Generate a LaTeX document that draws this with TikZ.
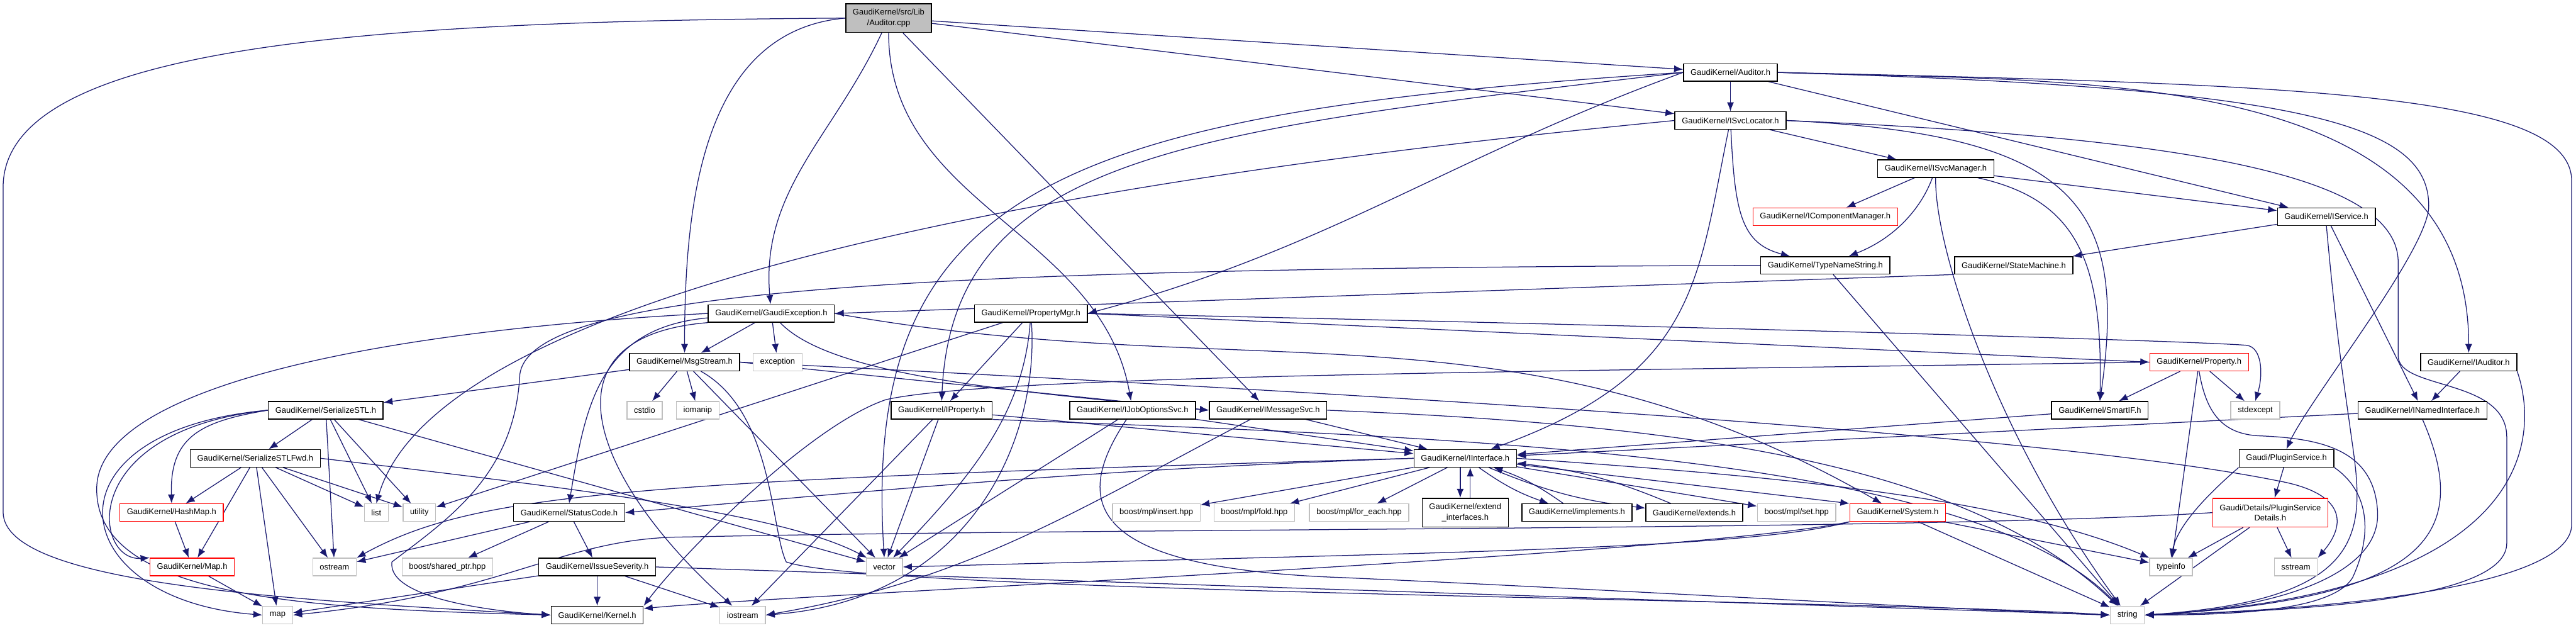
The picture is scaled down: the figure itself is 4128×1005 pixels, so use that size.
\documentclass[tikz,border=0pt]{standalone}
\usepackage{fontspec}
\setmainfont{Liberation Sans}
\usetikzlibrary{arrows.meta}
\definecolor{edgeblue}{HTML}{191970}
\definecolor{sysgrey}{HTML}{BFBFBF}
\definecolor{truncred}{HTML}{FF0000}
\pgfdeclarelayer{edges}
\pgfsetlayers{edges,main}

\begin{document}
\begin{tikzpicture}[
  x=0.025cm, y=-0.025cm,
  hdr/.style={draw=black,fill=white,line width=1pt,inner xsep=8pt,inner ysep=0pt,minimum height=7mm,align=center,font=\fontsize{9.3}{11.8}\selectfont},
  sys/.style={hdr,draw=sysgrey},
  trunc/.style={hdr,draw=truncred},
  srcfile/.style={hdr,fill=sysgrey},
  tall/.style={minimum height=11.5mm},
  dep/.style={-{Latex[length=3.6mm,width=2.8mm]},draw=edgeblue,line width=0.9pt}
]
\useasboundingbox (0,0) rectangle (4128,1005);

\node[srcfile,tall] (cpp) at (1424,29) {GaudiKernel/src/Lib\\/Auditor.cpp};
\node[hdr] (auditor) at (2773,116) {GaudiKernel/Auditor.h};
\node[hdr] (svclocator) at (2773,193) {GaudiKernel/ISvcLocator.h};
\node[hdr] (svcmanager) at (3102,270) {GaudiKernel/ISvcManager.h};
\node[hdr] (service) at (3728,347) {GaudiKernel/IService.h};
\node[trunc] (compmgr) at (2925,347) {GaudiKernel/IComponentManager.h};
\node[hdr] (typename) at (2925,425) {GaudiKernel/TypeNameString.h};
\node[hdr] (statemachine) at (3227,425) {GaudiKernel/StateMachine.h};
\node[hdr] (gaudiexc) at (1236,502) {GaudiKernel/GaudiException.h};
\node[hdr] (propmgr) at (1652,502) {GaudiKernel/PropertyMgr.h};
\node[hdr] (msgstream) at (1097,580) {GaudiKernel/MsgStream.h};
\node[sys] (exception) at (1246,580) {exception};
\node[trunc] (property) at (3524,580) {GaudiKernel/Property.h};
\node[hdr] (iauditor) at (3956,580) {GaudiKernel/IAuditor.h};
\node[hdr] (serialize) at (522,657) {GaudiKernel/SerializeSTL.h};
\node[sys] (cstdio) at (1033,657) {cstdio};
\node[sys] (iomanip) at (1118,657) {iomanip};
\node[hdr] (iproperty) at (1509,657) {GaudiKernel/IProperty.h};
\node[hdr] (joboptions) at (1815,657) {GaudiKernel/IJobOptionsSvc.h};
\node[hdr] (messagesvc) at (2032,657) {GaudiKernel/IMessageSvc.h};
\node[hdr] (smartif) at (3365,657) {GaudiKernel/SmartIF.h};
\node[sys] (stdexcept) at (3614,657) {stdexcept};
\node[hdr] (named) at (3882,657) {GaudiKernel/INamedInterface.h};
\node[hdr] (serializefwd) at (409,734) {GaudiKernel/SerializeSTLFwd.h};
\node[hdr] (iinterface) at (2348,734) {GaudiKernel/IInterface.h};
\node[hdr] (plugin) at (3664,734) {Gaudi/PluginService.h};
\node[trunc] (hashmap) at (275,821) {GaudiKernel/HashMap.h};
\node[sys] (list) at (603,821) {list};
\node[sys] (utility) at (672,821) {utility};
\node[hdr] (statuscode) at (912,821) {GaudiKernel/StatusCode.h};
\node[sys] (mplinsert) at (1853,821) {boost/mpl/insert.hpp};
\node[sys] (mplfold) at (2010,821) {boost/mpl/fold.hpp};
\node[sys] (mplforeach) at (2178,821) {boost/mpl/for\_each.hpp};
\node[hdr,tall] (extendif) at (2348,821) {GaudiKernel/extend\\\_interfaces.h};
\node[hdr] (implements) at (2527,821) {GaudiKernel/implements.h};
\node[hdr] (extends) at (2715,821) {GaudiKernel/extends.h};
\node[sys] (mplset) at (2879,821) {boost/mpl/set.hpp};
\node[trunc] (system) at (3041,821) {GaudiKernel/System.h};
\node[trunc,tall] (plugindetails) at (3638,821) {Gaudi/Details/PluginService\\Details.h};
\node[trunc] (maph) at (308,908) {GaudiKernel/Map.h};
\node[sys] (ostream) at (536,908) {ostream};
\node[sys] (sharedptr) at (717,908) {boost/shared\_ptr.hpp};
\node[hdr] (severity) at (957,908) {GaudiKernel/IssueSeverity.h};
\node[sys] (vector) at (1417,908) {vector};
\node[sys] (typeinfo) at (3479,908) {typeinfo};
\node[sys] (sstream) at (3679,908) {sstream};
\node[sys] (map) at (445,985) {map};
\node[hdr] (kernel) at (957,985) {GaudiKernel/Kernel.h};
\node[sys] (iostream) at (1190,985) {iostream};
\node[sys] (string) at (3409,985) {string};

\begin{pgfonlayer}{edges}
\fill[white] (0,0) rectangle (4128,1005);
\draw[dep] (cpp.west) .. controls (600,34) and (5,70) .. (5,300) -- (5,820) .. controls (5,935) and (450,960) .. (kernel.west);
\draw[dep] (cpp.west) to[out=185,in=90] (msgstream.north);
\draw[dep] (cpp) to[out=-115,in=95] (gaudiexc);
\draw[dep] (cpp) to[out=-90,in=100] (joboptions);
\draw[dep] (cpp) -- (messagesvc);
\draw[dep] (cpp) -- (auditor);
\draw[dep] (cpp) -- (svclocator);
\draw[dep] (auditor) -- (svclocator);
\draw[dep] (auditor.west) .. controls (1900,210) and (1526,250) .. (iproperty.north);
\draw[dep] (auditor.west) .. controls (1700,180) and (1380,300) .. (vector.north);
\draw[dep] (auditor.west) to[out=200,in=15] (propmgr.east);
\draw[dep] (auditor) -- (service);
\draw[dep] (auditor.east) to[out=-2,in=90] (iauditor.north);
\draw[dep] (auditor.east) .. controls (3700,140) and (3892,200) .. (3892,330) .. controls (3892,400) and (3700,640) .. (plugin.north);
\draw[dep] (auditor.east) .. controls (3700,135) and (4121,150) .. (4121,290) -- (4121,840) .. controls (4121,945) and (3700,978) .. (string.east);
\draw[dep] (svclocator) -- (svcmanager);
\draw[dep] (svclocator) .. controls (2780,340) and (2790,390) .. (typename);
\draw[dep] (svclocator) .. controls (2720,450) and (2720,600) .. (iinterface);
\draw[dep] (svclocator.west) .. controls (2250,236) and (725,386) .. (list.north);
\draw[dep] (svclocator.east) .. controls (3330,215) and (3410,330) .. (smartif.north);
\draw[dep] (svclocator.east) .. controls (3500,220) and (3843,280) .. (3843,420) -- (3843,570) .. controls (3843,625) and (4017,605) .. (4017,700) -- (4017,870) .. controls (4017,960) and (3700,978) .. (string.east);
\draw[dep] (svcmanager) -- (compmgr);
\draw[dep] (svcmanager) .. controls (3080,330) and (3040,380) .. (typename);
\draw[dep] (svcmanager) -- (service);
\draw[dep] (svcmanager) .. controls (3330,320) and (3370,420) .. (smartif.north);
\draw[dep] (svcmanager) .. controls (3100,400) and (3200,700) .. (string);
\draw[dep] (service) -- (statemachine);
\draw[dep] (service) -- (named);
\draw[dep] (service.south) .. controls (3745,550) and (3760,640) .. (3768,700) .. controls (3790,850) and (3800,960) .. (string.east);
\draw[dep] (statemachine.south west) -- (gaudiexc.east);
\draw[dep] (typename.west) .. controls (1500,430) and (850,460) .. (833,600) .. controls (825,760) and (720,830) .. (628,900) .. controls (620,960) and (800,980) .. (kernel.west);
\draw[dep] (typename) -- (string);
\draw[dep] (gaudiexc) -- (msgstream);
\draw[dep] (gaudiexc) -- (exception);
\draw[dep] (gaudiexc.west) .. controls (600,530) and (160,620) .. (155,780) .. controls (150,960) and (500,975) .. (kernel.west);
\draw[dep] (gaudiexc.184) .. controls (960,525) and (938,650) .. (statuscode.north);
\draw[dep] (gaudiexc.south west) .. controls (850,540) and (960,780) .. (iostream);
\draw[dep] (gaudiexc) .. controls (1330,600) and (1600,625) .. (messagesvc.west);
\draw[dep] (gaudiexc.east) .. controls (2000,620) and (2430,470) .. (system);
\draw[dep] (propmgr) -- (iproperty);
\draw[dep] (propmgr.east) -- (property.west);
\draw[dep] (propmgr.east) .. controls (2600,520) and (3500,545) .. (3600,553) .. controls (3625,556) and (3627,600) .. (stdexcept.north);
\draw[dep] (propmgr) -- (utility);
\draw[dep] (propmgr) .. controls (1640,660) and (1560,760) .. (vector);
\draw[dep] (propmgr) .. controls (1665,700) and (1560,960) .. (iostream.east);
\draw[dep] (msgstream) -- (serialize);
\draw[dep] (msgstream) -- (cstdio);
\draw[dep] (msgstream) -- (iomanip);
\draw[dep] (msgstream) -- (vector);
\draw[dep] (msgstream.east) -- (messagesvc.west);
\draw[dep] (msgstream.east) .. controls (2800,660) and (3400,720) .. (3650,770) .. controls (3760,790) and (3760,840) .. (sstream.north east);
\draw[dep] (msgstream) .. controls (1240,660) and (1235,850) .. (1260,900) .. controls (1400,950) and (3000,960) .. (string.west);
\draw[dep] (serialize) -- (serializefwd);
\draw[dep] (serialize.west) .. controls (320,675) and (272,700) .. (hashmap.north);
\draw[dep] (serialize.west) .. controls (120,690) and (150,900) .. (maph.north west);
\draw[dep] (serialize.west) .. controls (60,690) and (100,960) .. (map.west);
\draw[dep] (serialize) -- (ostream);
\draw[dep] (serialize) -- (list);
\draw[dep] (serialize) -- (utility);
\draw[dep] (serialize) -- (vector);
\draw[dep] (serializefwd) -- (hashmap);
\draw[dep] (serializefwd) -- (maph);
\draw[dep] (serializefwd) -- (map);
\draw[dep] (serializefwd) -- (ostream);
\draw[dep] (serializefwd) -- (list);
\draw[dep] (serializefwd) -- (utility);
\draw[dep] (serializefwd.east) .. controls (900,780) and (1250,820) .. (vector);
\draw[dep] (hashmap) -- (maph);
\draw[dep] (maph) -- (map);
\draw[dep] (statuscode) -- (ostream);
\draw[dep] (statuscode) -- (sharedptr);
\draw[dep] (statuscode) -- (severity);
\draw[dep] (severity) -- (map);
\draw[dep] (severity) -- (kernel);
\draw[dep] (severity) -- (iostream);
\draw[dep] (severity.east) -- (string.west);
\draw[dep] (iproperty) -- (iinterface);
\draw[dep] (iproperty) -- (vector);
\draw[dep] (iproperty) -- (iostream);
\draw[dep] (iproperty.south east) .. controls (2300,700) and (3150,720) .. (string);
\draw[dep] (joboptions) -- (iinterface);
\draw[dep] (joboptions) -- (vector);
\draw[dep] (joboptions) .. controls (1720,800) and (1730,910) .. (2150,925) .. controls (2600,945) and (3100,975) .. (string.west);
\draw[dep] (messagesvc) -- (iinterface);
\draw[dep] (messagesvc) .. controls (1720,820) and (1550,930) .. (iostream.east);
\draw[dep] (messagesvc.east) .. controls (2700,680) and (3150,740) .. (string);
\draw[dep] ([xshift=-0.2cm]iinterface.south) -- ([xshift=-0.2cm]extendif.north);
\draw[dep] ([xshift=0.2cm]extendif.north) -- ([xshift=0.2cm]iinterface.south);
\draw[dep] (iinterface) to[bend right=8] (implements);
\draw[dep] (implements) to[bend right=8] (iinterface);
\draw[dep] (iinterface) to[bend right=8] (extends);
\draw[dep] (extends) to[bend right=8] (iinterface);
\draw[dep] (iinterface) -- (mplinsert);
\draw[dep] (iinterface) -- (mplfold);
\draw[dep] (iinterface) -- (mplforeach);
\draw[dep] (iinterface) -- (mplset);
\draw[dep] (iinterface) -- (system.north west);
\draw[dep] (iinterface.west) .. controls (1770,751) and (1494,778) .. (statuscode.east);
\draw[dep] (iinterface.west) .. controls (1000,770) and (760,790) .. (ostream.north east);
\draw[dep] (iinterface.east) .. controls (2800,760) and (3200,790) .. (typeinfo);
\draw[dep] (smartif) -- (iinterface);
\draw[dep] (named) -- (iinterface);
\draw[dep] (iauditor) -- (named);
\draw[dep] (named.south) .. controls (3960,850) and (3900,960) .. (string.east);
\draw[dep] (iauditor.south east) .. controls (4070,700) and (4060,950) .. (string.east);
\draw[dep] (system.south west) .. controls (2800,880) and (2300,885) .. (vector.east);
\draw[dep] (system.south west) .. controls (2700,890) and (1300,950) .. (kernel.8);
\draw[dep] (system) -- (typeinfo);
\draw[dep] (system) -- (string);
\draw[dep] (property) -- (smartif);
\draw[dep] (property) -- (typeinfo);
\draw[dep] (property) -- (stdexcept);
\draw[dep] (property.west) .. controls (2500,595) and (1600,600) .. (1420,640) .. controls (1300,680) and (1100,880) .. (kernel.north east);
\draw[dep] (property.south) .. controls (3535,660) and (3560,695) .. (3620,698) .. controls (3720,702) and (3805,720) .. (3810,820) .. controls (3815,920) and (3650,975) .. (string.east);
\draw[dep] (plugin) -- (plugindetails);
\draw[dep] (plugin.south west) .. controls (3540,790) and (3490,840) .. (typeinfo.north);
\draw[dep] (plugin.south east) .. controls (3800,790) and (3800,860) .. (3770,925) .. controls (3740,975) and (3600,985) .. (string.east);
\draw[dep] (plugindetails) -- (typeinfo);
\draw[dep] (plugindetails) -- (sstream);
\draw[dep] (plugindetails) -- (string);
\draw[dep] (plugindetails.west) .. controls (3100,850) and (1800,845) .. (1100,860) .. controls (900,860) and (820,950) .. (map.east);
\end{pgfonlayer}
\end{tikzpicture}
\end{document}
